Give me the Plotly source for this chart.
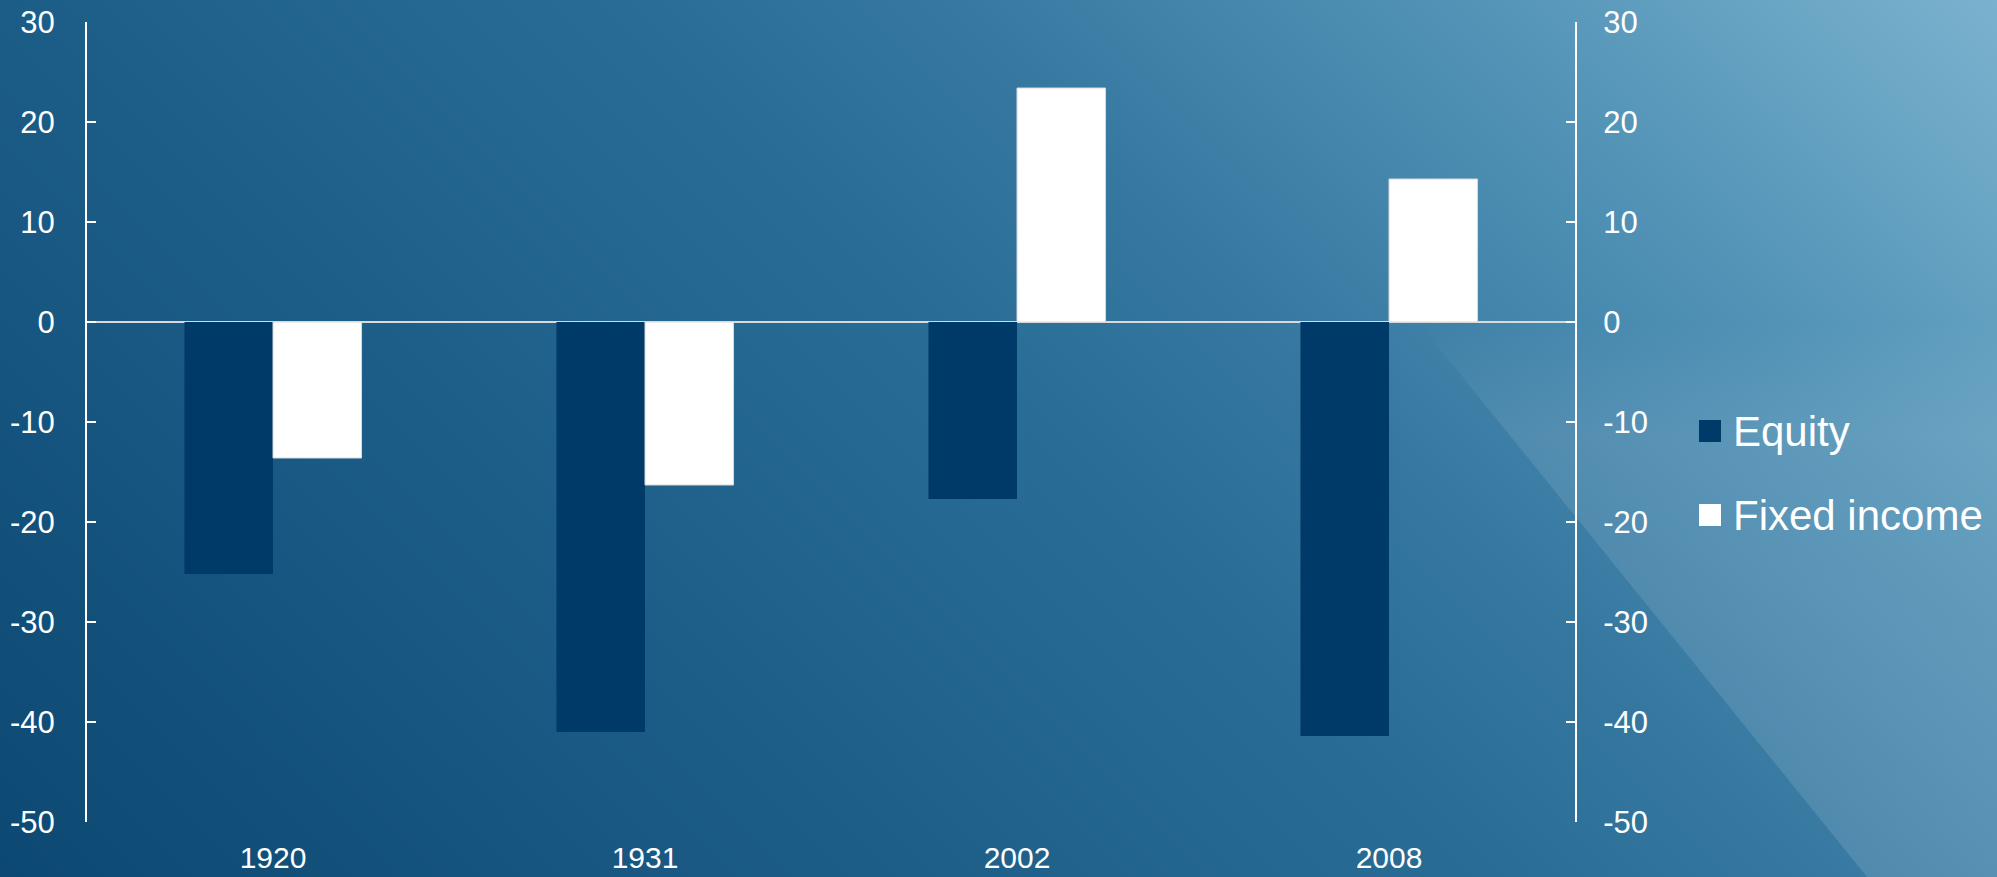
import base64
import plotly.graph_objects as go

# ---- data -------------------------------------------------------------
years = ["1920", "1931", "2002", "2008"]
equity = [-25.2, -41.0, -17.7, -41.4]
fixed_income = [-13.6, -16.3, 23.4, 14.3]
series_names = ["Equity", "Fixed income"]
y_ticks = [30, 20, 10, 0, -10, -20, -30, -40, -50]
y_tick_labels = [str(v) for v in y_ticks]  # plain hyphen for negatives

# ---- geometry ---------------------------------------------------------
W, H = 1997, 877
ML, MR, MT, MB = 87, 422, 22, 55
PW, PH = W - ML - MR, H - MT - MB

EQUITY_COLOR = "#003a68"
FONT = "Liberation Sans, Arial, sans-serif"


def px_x(x):
    return (x - ML) / PW


def px_y(y):
    return 1 - (y - MT) / PH


# ---- background: diagonal blue gradient with a lighter lower-right wedge
svg = f"""<svg xmlns="http://www.w3.org/2000/svg" width="{W}" height="{H}" viewBox="0 0 {W} {H}" preserveAspectRatio="none">
<defs>
<linearGradient id="bg" gradientUnits="userSpaceOnUse" x1="0" y1="{H}" x2="1437" y2="-560">
<stop offset="0" stop-color="#0c4872"/>
<stop offset="0.305" stop-color="#1c5d87"/>
<stop offset="0.52" stop-color="#296d96"/>
<stop offset="0.63" stop-color="#35779f"/>
<stop offset="0.72" stop-color="#4485ac"/>
<stop offset="0.80" stop-color="#5091b5"/>
<stop offset="1" stop-color="#7ab2ce"/>
</linearGradient>
<linearGradient id="hl" gradientUnits="userSpaceOnUse" x1="0" y1="322" x2="0" y2="{H}">
<stop offset="0" stop-color="#ffffff" stop-opacity="0"/>
<stop offset="0.2" stop-color="#ffffff" stop-opacity="0.10"/>
<stop offset="1" stop-color="#ffffff" stop-opacity="0.12"/>
</linearGradient>
</defs>
<rect x="0" y="0" width="{W}" height="{H}" fill="url(#bg)"/>
<polygon points="1418,322 1867,{H} {W},{H} {W},322" fill="url(#hl)"/>
</svg>"""
bg_uri = "data:image/svg+xml;base64," + base64.b64encode(svg.encode()).decode()

fig = go.Figure()
fig.add_trace(go.Bar(
    x=years, y=equity, name=series_names[0],
    marker=dict(color=EQUITY_COLOR, line=dict(width=0)),
    showlegend=False,
))
fig.add_trace(go.Bar(
    x=years, y=fixed_income, name=series_names[1],
    marker=dict(color="#ffffff", line=dict(color="#d8d8d8", width=1)),
    showlegend=False,
))
# invisible companion trace so the right-hand axis is drawn
fig.add_trace(go.Scatter(
    x=years, y=fixed_income, yaxis="y2", mode="markers",
    marker=dict(opacity=0), hoverinfo="skip", showlegend=False,
))

axis_common = dict(
    range=[-50, 30],
    tickvals=y_ticks,
    ticktext=y_tick_labels,
    ticks="inside",
    ticklen=9,
    tickwidth=2,
    tickcolor="#ffffff",
    showline=True,
    linecolor="#ffffff",
    linewidth=2,
    showgrid=False,
    automargin=False,
    tickfont=dict(family=FONT, size=31, color="#ffffff"),
    fixedrange=True,
)

fig.update_layout(
    width=W,
    height=H,
    margin=dict(l=ML, r=MR, t=MT, b=MB, pad=0, autoexpand=False),
    paper_bgcolor="#1c5d87",
    plot_bgcolor="rgba(0,0,0,0)",
    barmode="group",
    bargap=0.524,
    bargroupgap=0,
    font=dict(family=FONT, color="#ffffff"),
    xaxis=dict(
        showline=False,
        showgrid=False,
        ticks="",
        automargin=False,
        tickfont=dict(family=FONT, size=30, color="#ffffff"),
        ticklabelstandoff=15,
        fixedrange=True,
    ),
    yaxis=dict(
        **axis_common,
        side="left",
        zeroline=True,
        zerolinecolor="#d9d9d9",
        zerolinewidth=2,
        ticklabelstandoff=24,
    ),
    yaxis2=dict(
        **axis_common,
        side="right",
        overlaying="y",
        zeroline=False,
        ticklabelstandoff=20,
    ),
    images=[dict(
        source=bg_uri,
        xref="paper", yref="paper",
        x=px_x(0), y=px_y(0),
        sizex=W / PW, sizey=H / PH,
        xanchor="left", yanchor="top",
        sizing="stretch",
        layer="below",
    )],
)

# ---- legend (square swatches + labels) -------------------------------
legend_colors = [EQUITY_COLOR, "#ffffff"]
legend_rows = [431, 515]
for name, color, cy in zip(series_names, legend_colors, legend_rows):
    fig.add_shape(
        type="rect", xref="paper", yref="paper",
        x0=px_x(1699), x1=px_x(1721),
        y0=px_y(cy + 11), y1=px_y(cy - 11),
        fillcolor=color, line=dict(width=0),
    )
    fig.add_annotation(
        xref="paper", yref="paper",
        x=px_x(1731), y=px_y(cy),
        xanchor="left", yanchor="middle",
        text=name, showarrow=False,
        font=dict(family=FONT, size=42, color="#ffffff"),
    )

fig.write_html("out.html")
